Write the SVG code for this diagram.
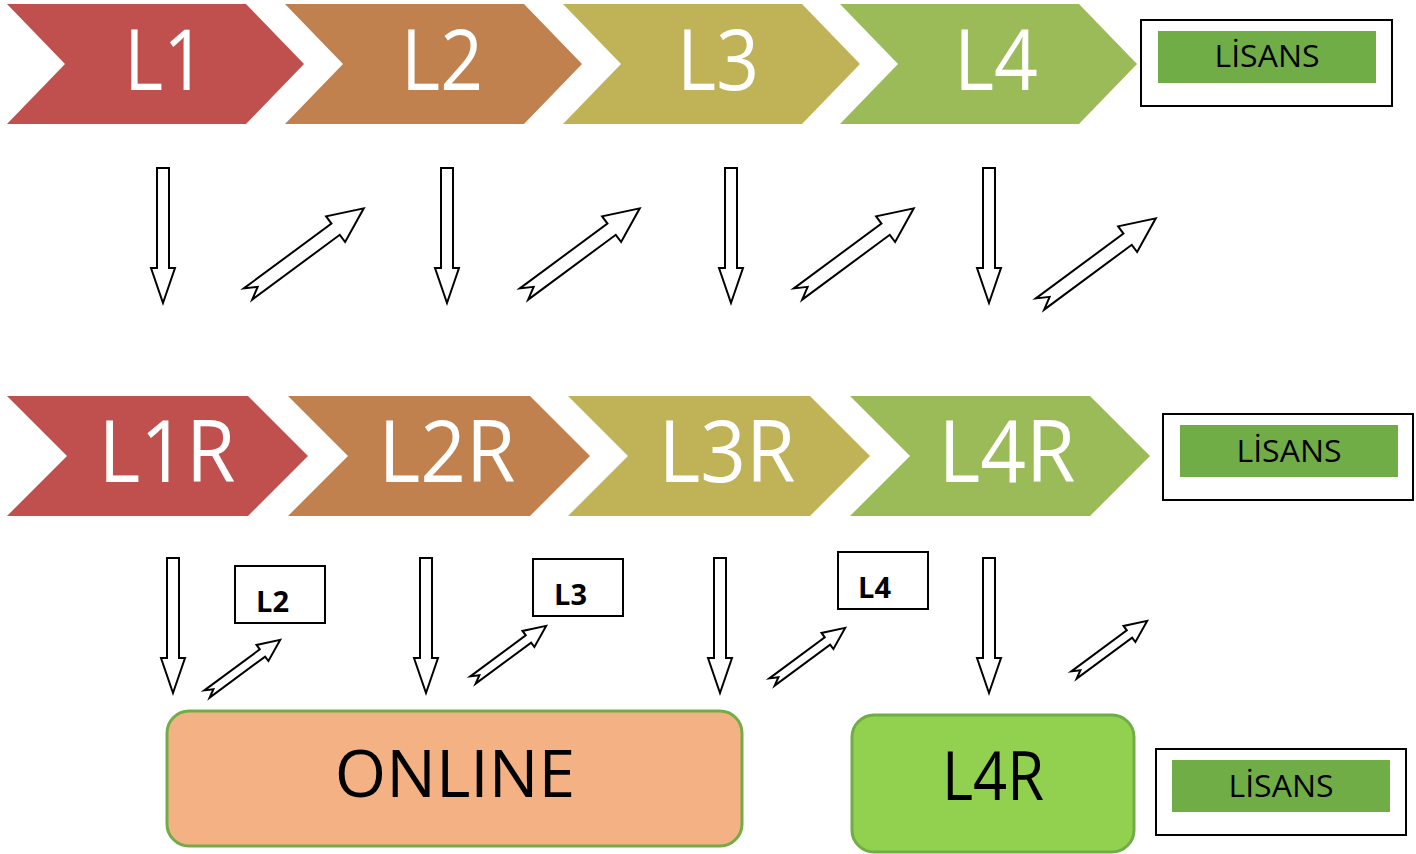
<svg xmlns="http://www.w3.org/2000/svg" width="1416" height="854" viewBox="0 0 1416 854">
<style>
.chev-t{font-family:"Open Sans","Liberation Sans",sans-serif;fill:#ffffff;text-anchor:middle}
.lis-o{fill:#ffffff;stroke:#000000;stroke-width:2}
.lis-i{fill:#70AD47}
.lis-t{font-family:"Open Sans","Liberation Sans",sans-serif;font-size:31px;fill:#000000;text-anchor:middle}
.arr{fill:#ffffff;stroke:#000000;stroke-width:2;stroke-linejoin:miter}
.sbox{fill:#ffffff;stroke:#000000;stroke-width:2}
.sbox-t{font-family:"Open Sans","Liberation Sans",sans-serif;font-size:29px;font-weight:bold;fill:#000000}
.big-t{font-family:"Open Sans","Liberation Sans",sans-serif;fill:#000000;text-anchor:middle}
</style>
<defs>
<path id="down" d="M-6,0 H6 V100 H12 L0,135 L-12,100 H-6 Z"/>
<path id="diag" d="M0,-7 H109 V-16 L144,0 L109,16 V7 H0 L12,0 Z"/>
<path id="diagS" d="M0,-4.5 H69 V-10 L91,0 L69,10 V4.5 H0 L8,0 Z"/>
</defs>

<g id="row1">
<g id="L1"><polygon points="7,4 246,4 304,64 246,124 7,124 65,64" fill="#C0504D"/><text class="chev-t" x="165" y="90" font-size="84" textLength="82" lengthAdjust="spacingAndGlyphs">L1</text></g>
<g id="L2"><polygon points="285,4 524,4 582,64 524,124 285,124 343,64" fill="#C0814F"/><text class="chev-t" x="442" y="90" font-size="84" textLength="82" lengthAdjust="spacingAndGlyphs">L2</text></g>
<g id="L3"><polygon points="563,4 802,4 860,64 802,124 563,124 621,64" fill="#BFB257"/><text class="chev-t" x="718" y="90" font-size="84" textLength="82" lengthAdjust="spacingAndGlyphs">L3</text></g>
<g id="L4"><polygon points="840,4 1079,4 1137,64 1079,124 840,124 898,64" fill="#9BBB59"/><text class="chev-t" x="996" y="90" font-size="84" textLength="84" lengthAdjust="spacingAndGlyphs">L4</text></g>
</g>

<g id="lisans1"><rect class="lis-o" x="1141" y="20" width="251" height="86"/><rect class="lis-i" x="1158" y="31" width="218" height="52"/><text class="lis-t" x="1267" y="67" textLength="105" lengthAdjust="spacingAndGlyphs">LİSANS</text></g>

<g id="row2">
<g id="L1R"><polygon points="7,396 248,396 308,456 248,516 7,516 67,456" fill="#C0504D"/><text class="chev-t" x="167" y="482" font-size="86" textLength="137" lengthAdjust="spacingAndGlyphs">L1R</text></g>
<g id="L2R"><polygon points="288,396 530,396 590,456 530,516 288,516 348,456" fill="#C0814F"/><text class="chev-t" x="447" y="482" font-size="86" textLength="137" lengthAdjust="spacingAndGlyphs">L2R</text></g>
<g id="L3R"><polygon points="568,396 810,396 870,456 810,516 568,516 628,456" fill="#BFB257"/><text class="chev-t" x="727" y="482" font-size="86" textLength="137" lengthAdjust="spacingAndGlyphs">L3R</text></g>
<g id="L4R"><polygon points="850,396 1090,396 1150,456 1090,516 850,516 910,456" fill="#9BBB59"/><text class="chev-t" x="1007" y="482" font-size="86" textLength="137" lengthAdjust="spacingAndGlyphs">L4R</text></g>
</g>

<g id="lisans2"><rect class="lis-o" x="1163" y="414" width="250" height="86"/><rect class="lis-i" x="1180" y="425" width="218" height="52"/><text class="lis-t" x="1289" y="462" textLength="105" lengthAdjust="spacingAndGlyphs">LİSANS</text></g>

<g id="box-L2"><rect class="sbox" x="235" y="566" width="90" height="57"/><text class="sbox-t" x="256" y="612">L2</text></g>
<g id="box-L3"><rect class="sbox" x="533" y="559" width="90" height="57"/><text class="sbox-t" x="554" y="605">L3</text></g>
<g id="box-L4"><rect class="sbox" x="838" y="552" width="90" height="57"/><text class="sbox-t" x="858" y="598">L4</text></g>

<g id="online"><rect x="167" y="711" width="575" height="135" rx="22" fill="#F4B183" stroke="#70AD47" stroke-width="3"/><text class="big-t" x="455" y="797" font-size="66">ONLINE</text></g>

<g id="L4R-box"><rect x="852" y="715" width="282" height="137" rx="22" fill="#92D050" stroke="#70AD47" stroke-width="3"/><text class="big-t" x="993" y="800" font-size="67" textLength="102" lengthAdjust="spacingAndGlyphs">L4R</text></g>

<g id="lisans3"><rect class="lis-o" x="1156" y="749" width="250" height="86"/><rect class="lis-i" x="1172" y="760" width="218" height="52"/><text class="lis-t" x="1281" y="797" textLength="105" lengthAdjust="spacingAndGlyphs">LİSANS</text></g>

<g id="connectors">
<use href="#down" class="arr" x="163" y="168"/>
<use href="#down" class="arr" x="447" y="168"/>
<use href="#down" class="arr" x="731" y="168"/>
<use href="#down" class="arr" x="989" y="168"/>
<use href="#diag" class="arr" transform="translate(248,294) rotate(-36.5)"/>
<use href="#diag" class="arr" transform="translate(524,294) rotate(-36.5)"/>
<use href="#diag" class="arr" transform="translate(798,294) rotate(-36.5)"/>
<use href="#diag" class="arr" transform="translate(1040,304) rotate(-36.5)"/>
<use href="#down" class="arr" x="173" y="558"/>
<use href="#down" class="arr" x="426" y="558"/>
<use href="#down" class="arr" x="720" y="558"/>
<use href="#down" class="arr" x="989" y="558"/>
<use href="#diagS" class="arr" transform="translate(207,694) rotate(-36.5)"/>
<use href="#diagS" class="arr" transform="translate(473,680) rotate(-36.5)"/>
<use href="#diagS" class="arr" transform="translate(772,682) rotate(-36.5)"/>
<use href="#diagS" class="arr" transform="translate(1074,675) rotate(-36.5)"/>
</g>
</svg>
